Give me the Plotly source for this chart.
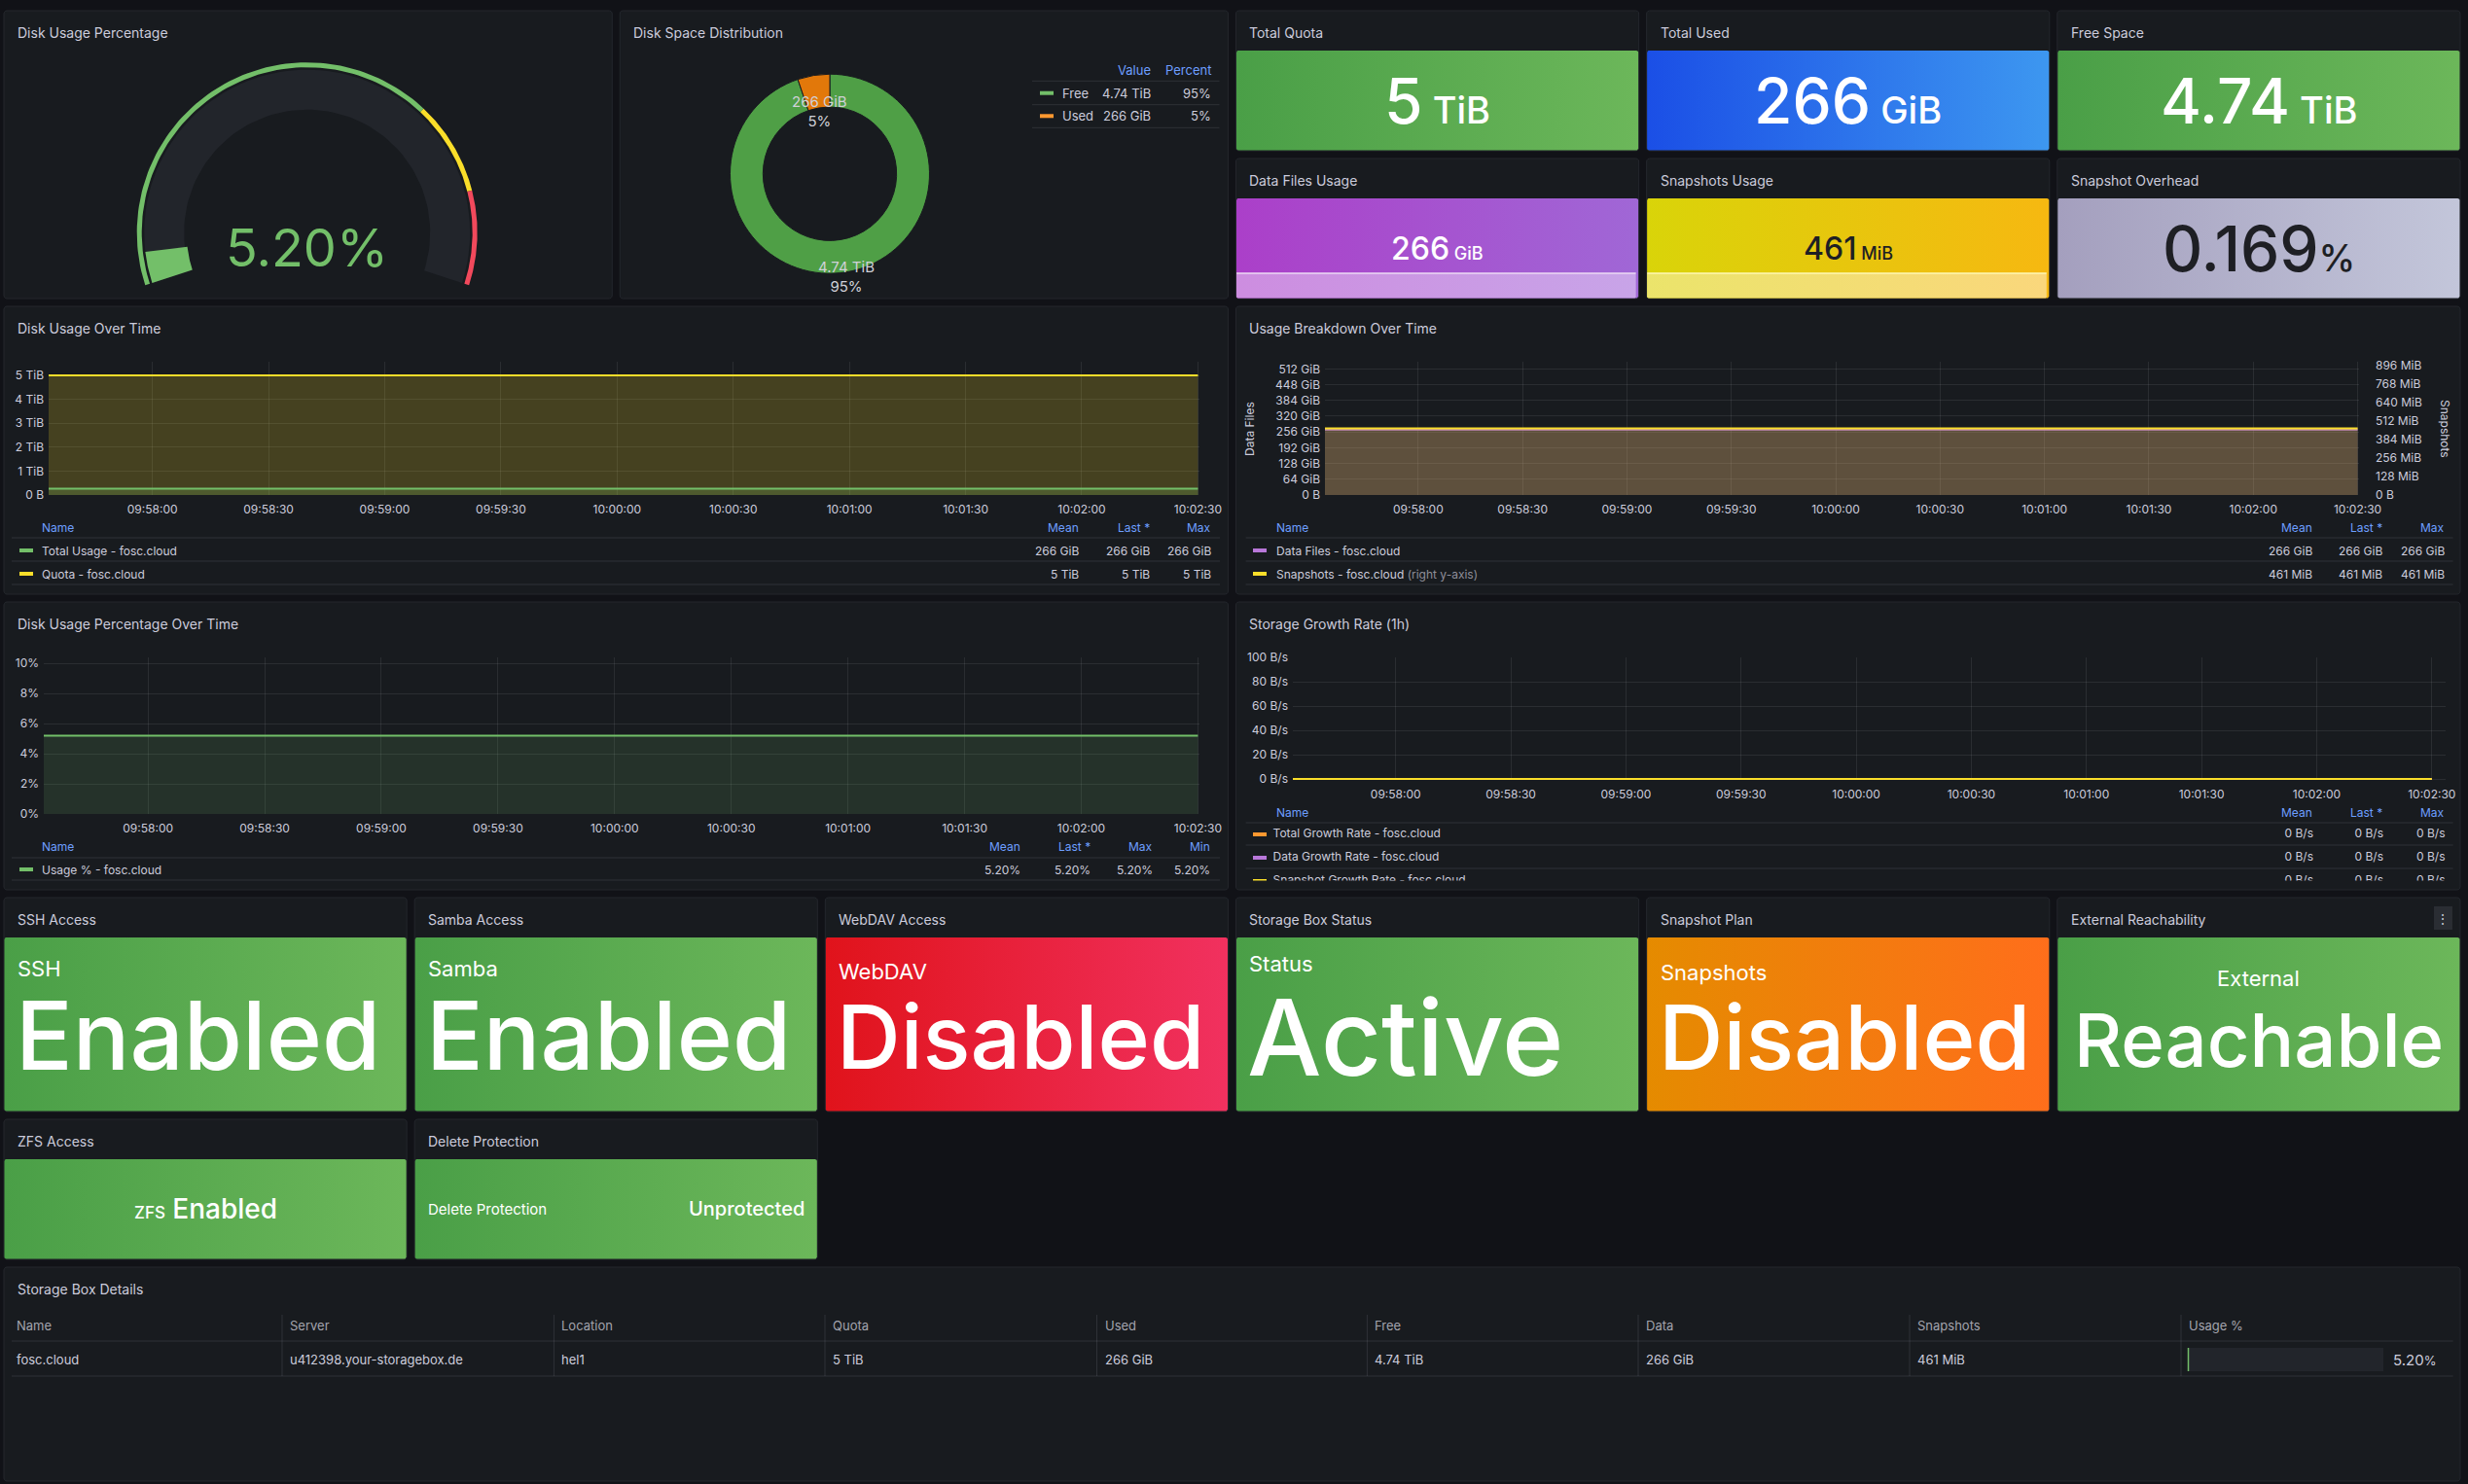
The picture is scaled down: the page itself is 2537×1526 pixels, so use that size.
import math
import plotly.graph_objects as go

W, H = 2537, 1526
BG = "#111217"
PANEL_BG = "#181b1f"
PANEL_BORDER = "#24272d"
TXT = "#ccccdc"
HDR_BLUE = "#6e9fff"
GRID = "rgba(204,204,220,0.10)"
SEP = "rgba(204,204,220,0.13)"
FONT = "Inter, Roboto, sans-serif"

# ---------------------------------------------------------------- data
gauge_value = 5.20
gauge_steps = [0, 70, 85, 100]
gauge_step_colors = ["#73BF69", "#FADE2A", "#F2495C"]

dist_labels = ["Free", "Used"]
dist_gib = [4854, 266]
dist_value_text = ["4.74 TiB", "266 GiB"]

stat_titles = ["Total Quota", "Total Used", "Free Space",
               "Data Files Usage", "Snapshots Usage", "Snapshot Overhead"]
stat_values = ["5", "266", "4.74", "266", "461", "0.169"]
stat_units = ["TiB", "GiB", "TiB", "GiB", "MiB", "%"]

times = ["2024-06-01 09:57:30", "2024-06-01 09:58:00", "2024-06-01 09:58:30",
         "2024-06-01 09:59:00", "2024-06-01 09:59:30", "2024-06-01 10:00:00",
         "2024-06-01 10:00:30", "2024-06-01 10:01:00", "2024-06-01 10:01:30",
         "2024-06-01 10:02:00", "2024-06-01 10:02:30"]
total_usage_gib = [266, 266, 266, 266, 266, 266, 266, 266, 266, 266, 266]
quota_tib = [5, 5, 5, 5, 5, 5, 5, 5, 5, 5, 5]
data_files_gib = [266, 266, 266, 266, 266, 266, 266, 266, 266, 266, 266]
snapshots_mib = [461, 461, 461, 461, 461, 461, 461, 461, 461, 461, 461]
usage_pct = [5.20, 5.20, 5.20, 5.20, 5.20, 5.20, 5.20, 5.20, 5.20, 5.20, 5.20]
growth_total_bps = [0, 0, 0, 0, 0, 0, 0, 0, 0, 0, 0]
growth_data_bps = [0, 0, 0, 0, 0, 0, 0, 0, 0, 0, 0]
growth_snap_bps = [0, 0, 0, 0, 0, 0, 0, 0, 0, 0, 0]

ts1_ticks = [0, 1, 2, 3, 4, 5]
ts1_ticktext = ["0 B", "1 TiB", "2 TiB", "3 TiB", "4 TiB", "5 TiB"]
ts2_left_ticks = [0, 64, 128, 192, 256, 320, 384, 448, 512]
ts2_left_text = ["0 B", "64 GiB", "128 GiB", "192 GiB", "256 GiB", "320 GiB", "384 GiB", "448 GiB", "512 GiB"]
ts2_right_ticks = [0, 128, 256, 384, 512, 640, 768, 896]
ts2_right_text = ["0 B", "128 MiB", "256 MiB", "384 MiB", "512 MiB", "640 MiB", "768 MiB", "896 MiB"]
ts3_ticks = [0, 2, 4, 6, 8, 10]
ts3_ticktext = ["0%", "2%", "4%", "6%", "8%", "10%"]
ts4_ticks = [0, 20, 40, 60, 80, 100]
ts4_ticktext = ["0 B/s", "20 B/s", "40 B/s", "60 B/s", "80 B/s", "100 B/s"]

status_titles = ["SSH Access", "Samba Access", "WebDAV Access",
                 "Storage Box Status", "Snapshot Plan", "External Reachability"]
status_labels = ["SSH", "Samba", "WebDAV", "Status", "Snapshots", "External"]
status_values = ["Enabled", "Enabled", "Disabled", "Active", "Disabled", "Reachable"]
status_kind = ["green", "green", "red", "green", "orange", "green"]

small_titles = ["ZFS Access", "Delete Protection"]

table_headers = ["Name", "Server", "Location", "Quota", "Used", "Free", "Data", "Snapshots", "Usage %"]
table_row = ["fosc.cloud", "u412398.your-storagebox.de", "hel1", "5 TiB", "266 GiB",
             "4.74 TiB", "266 GiB", "461 MiB", "5.20%"]

# ---------------------------------------------------------------- styles
GRAD = {
    "green": ("#4a9f47", "#6cb75a"),
    "blue": ("#1b4fe6", "#3d97f0"),
    "purple": ("#ab3fc9", "#a067d6"),
    "yellow": ("#d9d409", "#f6b811"),
    "gray": ("#a49fbe", "#c3c6da"),
    "red": ("#e0131b", "#f1315f"),
    "orange": ("#e58b00", "#ff6e1b"),
}
stat_kind = ["green", "blue", "green", "purple", "yellow", "gray"]
stat_txt_color = ["#ffffff", "#ffffff", "#ffffff", "#ffffff", "#1e1f24", "#1e1f24"]
stat_val_size = [64, 64, 64, 32, 32, 64]
stat_unit_size = [38, 38, 38, 18, 18, 38]
spark_band = {3: (("#cd8de0", "#c8a4e8"), "#ecdaf4"), 4: (("#ebe46b", "#fad77c"), "#fff8b5")}

status_label_y = [996, 996, 999, 991, 1000, 1006]
status_val_size = [97.5, 97.5, 91, 108, 92, 76]
status_val_y = [1065, 1065, 1066, 1066, 1066, 1069]

# ---------------------------------------------------------------- helpers
U = 105.54


def P(col, row, w, h):
    x0 = 4 + col * U
    y0 = 11 + row * 38
    return (x0, y0, x0 + w * U - 8, y0 + h * 38 - 8)


canvas = []
shapes = []
ann = []


def rrect(x0, y0, x1, y1, r=3, n=5):
    xs, ys = [], []
    for cx, cy, a0 in [(x1 - r, y0 + r, -90), (x1 - r, y1 - r, 0), (x0 + r, y1 - r, 90), (x0 + r, y0 + r, 180)]:
        for k in range(n + 1):
            a = math.radians(a0 + 90 * k / n)
            xs.append(cx + r * math.cos(a))
            ys.append(cy + r * math.sin(a))
    xs.append(xs[0])
    ys.append(ys[0])
    return xs, ys


def poly(xs, ys, fill=None, line_color=None, line_width=0, grad=None):
    kw = dict(x=xs, y=ys, mode="lines", fill="toself", hoverinfo="skip",
              showlegend=False, xaxis="x", yaxis="y",
              line=dict(color=line_color or "rgba(0,0,0,0)", width=line_width))
    if grad:
        kw["fillgradient"] = dict(type="horizontal", colorscale=[[0, grad[0]], [1, grad[1]]])
    else:
        kw["fillcolor"] = fill
    canvas.append(go.Scatter(**kw))


def sector(cx, cy, r0, r1, a0, a1, n=90):
    xs, ys = [], []
    for k in range(n + 1):
        t = math.radians(a0 + (a1 - a0) * k / n)
        xs.append(cx + r1 * math.cos(t))
        ys.append(cy - r1 * math.sin(t))
    for k in range(n, -1, -1):
        t = math.radians(a0 + (a1 - a0) * k / n)
        xs.append(cx + r0 * math.cos(t))
        ys.append(cy - r0 * math.sin(t))
    xs.append(xs[0])
    ys.append(ys[0])
    return xs, ys


def text(x, y, s, size=12, color=TXT, xa="left", ya="middle", weight=None, angle=None):
    f = dict(size=size, color=color, family=FONT)
    if weight:
        f["weight"] = weight
    d = dict(x=x, y=y, xref="x", yref="y", text=s, showarrow=False,
             xanchor=xa, yanchor=ya, font=f, borderpad=0)
    if angle is not None:
        d["textangle"] = angle
    ann.append(d)


def hline(x0, x1, y, color=SEP, w=1):
    shapes.append(dict(type="line", xref="x", yref="y", x0=x0, x1=x1, y0=y, y1=y,
                       line=dict(color=color, width=w), layer="above"))


def vline(x, y0, y1, color=SEP, w=1):
    shapes.append(dict(type="line", xref="x", yref="y", x0=x, x1=x, y0=y0, y1=y1,
                       line=dict(color=color, width=w), layer="above"))


def box(x0, y0, x1, y1, color):
    shapes.append(dict(type="rect", xref="x", yref="y", x0=x0, x1=x1, y0=y0, y1=y1,
                       fillcolor=color, line=dict(width=0), layer="above"))


def panel(rect, title):
    x0, y0, x1, y1 = rect
    xs, ys = rrect(x0, y0, x1, y1, r=3)
    poly(xs, ys, fill=PANEL_BG, line_color=PANEL_BORDER, line_width=1)
    text(x0 + 13, y0 + 22, title, 14, TXT)


def xdom(a, b):
    return [a / W, b / W]


def ydom(top, bottom):
    return [1 - bottom / H, 1 - top / H]


# ---------------------------------------------------------------- panels
g_rect = P(0, 0, 6, 8)
d_rect = P(6, 0, 6, 8)
ts_rects = [P(0, 8, 12, 8), P(12, 8, 12, 8), P(0, 16, 12, 8), P(12, 16, 12, 8)]
stat_rects = [P(12, 0, 4, 4), P(16, 0, 4, 4), P(20, 0, 4, 4), P(12, 4, 4, 4), P(16, 4, 4, 4), P(20, 4, 4, 4)]
status_rects = [P(0, 24, 4, 6), P(4, 24, 4, 6), P(8, 24, 4, 6), P(12, 24, 4, 6), P(16, 24, 4, 6), P(20, 24, 4, 6)]
small_rects = [P(0, 30, 4, 4), P(4, 30, 4, 4)]
t_rect = P(0, 34, 24, 6)

panel(g_rect, "Disk Usage Percentage")
panel(d_rect, "Disk Space Distribution")
for r, t in zip(ts_rects, ["Disk Usage Over Time", "Usage Breakdown Over Time",
                           "Disk Usage Percentage Over Time", "Storage Growth Rate (1h)"]):
    panel(r, t)
for r, t in zip(stat_rects, stat_titles):
    panel(r, t)
for r, t in zip(status_rects, status_titles):
    panel(r, t)
for r, t in zip(small_rects, small_titles):
    panel(r, t)
panel(t_rect, "Storage Box Details")

# ---------------------------------------------------------------- gauge
GCX, GCY = 315.7, 239.2
A_START, A_SPAN = 198.0, 216.0


def g_ang(v):
    return A_START - v / 100.0 * A_SPAN


xs, ys = sector(GCX, GCY, 126.5, 167.5, g_ang(0), g_ang(100))
poly(xs, ys, fill="#22252b")
for i, c in enumerate(gauge_step_colors):
    xs, ys = sector(GCX, GCY, 170, 175, g_ang(gauge_steps[i]), g_ang(gauge_steps[i + 1]))
    poly(xs, ys, fill=c)
xs, ys = sector(GCX, GCY, 124, 167.5, g_ang(0), g_ang(gauge_value), n=20)
poly(xs, ys, fill="#73BF69")
text(GCX, 254.5, f"{gauge_value:.2f}%", 54, "#73BF69", xa="center")

# ---------------------------------------------------------------- stats (top right)
for i, r in enumerate(stat_rects):
    x0, y0, x1, y1 = r
    xs, ys = rrect(x0 + 0.5, y0 + 41, x1 - 0.5, y1 - 0.5, r=2)
    poly(xs, ys, grad=GRAD[stat_kind[i]])
    if i in spark_band:
        (bc, lc) = spark_band[i]
        by = y0 + 118
        xs, ys = rrect(x0 + 0.5, by, x1 - 3, y1 - 0.5, r=1, n=1)
        poly(xs, ys, grad=bc)
        canvas.append(go.Scatter(x=[x0 + 0.5, x1 - 3], y=[by, by], mode="lines",
                                 line=dict(color=lc, width=1.5), hoverinfo="skip",
                                 showlegend=False, xaxis="x", yaxis="y"))
    cy = (y0 + 41 + y1) / 2
    s = f"{stat_values[i]}<span style='font-size:{stat_unit_size[i]}px'> {stat_units[i]}</span>"
    if stat_units[i] == "%":
        s = f"{stat_values[i]}<span style='font-size:{stat_unit_size[i]}px'>%</span>"
    text((x0 + x1) / 2, cy, s, stat_val_size[i], stat_txt_color[i], xa="center", weight=500)

# ---------------------------------------------------------------- status panels
for i, r in enumerate(status_rects):
    x0, y0, x1, y1 = r
    xs, ys = rrect(x0 + 0.5, y0 + 41, x1 - 0.5, y1 - 0.5, r=2)
    poly(xs, ys, grad=GRAD[status_kind[i]])
    if status_labels[i] == "External":
        text((x0 + x1) / 2, status_label_y[i], status_labels[i], 22, "#ffffff", xa="center")
        text((x0 + x1) / 2, status_val_y[i], status_values[i], status_val_size[i], "#ffffff",
             xa="center", weight=500)
    else:
        text(x0 + 13, status_label_y[i], status_labels[i], 22, "#ffffff")
        text(x0 + 11, status_val_y[i], status_values[i], status_val_size[i], "#ffffff", weight=500)
mx0, my0, mx1, my1 = status_rects[5]
shapes.append(dict(type="rect", xref="x", yref="y", x0=mx1 - 27, x1=mx1 - 8, y0=my0 + 9, y1=my0 + 33,
                   fillcolor="#2a2d33", line=dict(width=0), layer="above"))
text(mx1 - 17.5, my0 + 21, "⋮", 14, TXT, xa="center")

for i, r in enumerate(small_rects):
    x0, y0, x1, y1 = r
    xs, ys = rrect(x0 + 0.5, y0 + 41, x1 - 0.5, y1 - 0.5, r=2)
    poly(xs, ys, grad=GRAD["green"])
zx0, zy0, zx1, zy1 = small_rects[0]
text((zx0 + zx1) / 2, 1243, "<span style='font-size:17px'>ZFS</span> Enabled", 28, "#ffffff",
     xa="center", weight=500)
dx0, dy0, dx1, dy1 = small_rects[1]
text(dx0 + 13, 1243, "Delete Protection", 15, "#ffffff")
text(dx1 - 12, 1243, "Unprotected", 20, "#ffffff", xa="right", weight=500)

# ---------------------------------------------------------------- donut
PCX, PCY, PR = 853.0, 178.7, 102.5
pie = go.Pie(labels=dist_labels, values=dist_gib, hole=0.67, sort=False, direction="clockwise",
             rotation=0, marker=dict(colors=["#4f9f46", "#e2780a"], line=dict(color=PANEL_BG, width=1)),
             textinfo="none", hoverinfo="skip", showlegend=False,
             domain=dict(x=xdom(PCX - PR, PCX + PR), y=ydom(PCY - PR, PCY + PR)))
total = sum(dist_gib)
pie_label_r = [107, 65]
cum = 0
pcts = []
for i, v in enumerate(dist_gib):
    mid = math.radians((cum + v / 2) / total * 360)
    cum += v
    pct = round(v / total * 100)
    pcts.append(pct)
    lx = PCX + pie_label_r[i] * math.sin(mid)
    ly = PCY - pie_label_r[i] * math.cos(mid)
    text(lx, ly, f"{dist_value_text[i]}<br>{pct}%", 15, "#d0d1d8", xa="center")
text(1184, 71.7, "Value", 13, HDR_BLUE, xa="right")
text(1245.5, 71.7, "Percent", 13, HDR_BLUE, xa="right")
hline(1061, 1253.5, 83.3)
sw_cols = ["#73BF69", "#FF9830"]
for i, (lab, ry) in enumerate(zip(dist_labels, [95.7, 119.3])):
    box(1069, ry - 2, 1083, ry + 2, sw_cols[i])
    text(1091, ry, lab, 13, TXT)
    text(1184, ry, dist_value_text[i], 13, TXT, xa="right")
    text(1245.5, ry, f"{pcts[i]}%", 13, TXT, xa="right")
    hline(1061, 1253.5, ry + 12)

# ---------------------------------------------------------------- time series
traces = []
XR = ["2024-06-01 09:57:33.2", "2024-06-01 10:02:30.4"]
XR4 = ["2024-06-01 09:57:33.2", "2024-06-01 10:02:33.6"]


def time_axis(anchor, a, b, rng):
    return dict(domain=xdom(a, b), anchor=anchor, type="date", range=rng, tickformat="%H:%M:%S",
                tick0="2024-06-01 09:58:00", dtick=30000, showgrid=True, gridcolor=GRID,
                zeroline=False, showline=False, ticks="", fixedrange=True, automargin=False,
                tickfont=dict(size=12, color=TXT, family=FONT), ticklabelstandoff=6)


def val_axis(anchor, top, bottom, rng, tv, tt, side="left", overlaying=None, standoff=4):
    d = dict(anchor=anchor, range=rng, tickmode="array", tickvals=tv, ticktext=tt,
             showgrid=overlaying is None, gridcolor=GRID, zeroline=False, showline=False,
             ticks="", fixedrange=True, side=side, ticklabelstandoff=standoff, automargin=False,
             tickfont=dict(size=12, color=TXT, family=FONT))
    if overlaying:
        d["overlaying"] = overlaying
    else:
        d["domain"] = ydom(top, bottom)
    return d


def line_tr(x, y, color, xa, ya, fillc=None):
    kw = dict(x=x, y=y, mode="lines", line=dict(color=color, width=2), hoverinfo="skip",
              showlegend=False, xaxis=xa, yaxis=ya)
    if fillc:
        kw["fill"] = "tozeroy"
        kw["fillcolor"] = fillc
    return go.Scatter(**kw)


traces.append(line_tr(times, quota_tib, "#FADE2A", "x2", "y2", "rgba(250,222,42,0.2)"))
traces.append(line_tr(times, [g / 1024 for g in total_usage_gib], "#73BF69", "x2", "y2",
                      "rgba(115,191,105,0.2)"))
traces.append(line_tr(times, data_files_gib, "#B877D9", "x3", "y3", "rgba(184,119,217,0.2)"))
traces.append(line_tr(times, snapshots_mib, "#FADE2A", "x3", "y4", "rgba(250,222,42,0.2)"))
traces.append(line_tr(times, usage_pct, "#73BF69", "x4", "y5", "rgba(115,191,105,0.15)"))
traces.append(line_tr(times, growth_total_bps, "#FF9830", "x5", "y6"))
traces.append(line_tr(times, growth_data_bps, "#B877D9", "x5", "y6"))
traces.append(line_tr(times, growth_snap_bps, "#FADE2A", "x5", "y6"))

hidden = dict(visible=False, fixedrange=True, automargin=False, showgrid=False, zeroline=False)
layout_axes = dict(
    xaxis=dict(domain=[0, 1], range=[0, W], **hidden),
    yaxis=dict(domain=[0, 1], range=[H, 0], **hidden),
    xaxis2=time_axis("y2", 50, 1233, XR),
    yaxis2=val_axis("x2", 372, 509, [0, 5.57], ts1_ticks, ts1_ticktext),
    xaxis3=time_axis("y3", 1362, 2425, XR),
    yaxis3=val_axis("x3", 372, 509, [0, 541], ts2_left_ticks, ts2_left_text),
    yaxis4=val_axis("x3", 372, 509, [0, 921], ts2_right_ticks, ts2_right_text, side="right",
                    overlaying="y3", standoff=16),
    xaxis4=time_axis("y5", 45, 1233, XR),
    yaxis5=val_axis("x4", 676, 837, [0, 10.39], ts3_ticks, ts3_ticktext),
    xaxis5=time_axis("y6", 1329, 2514, XR4),
    yaxis6=val_axis("x5", 676, 802.3, [-1, 100], ts4_ticks, ts4_ticktext),
    xaxis6=dict(domain=xdom(1272, 2529), range=[1272, 2529], anchor="y7", **hidden),
    yaxis7=dict(domain=ydom(846, 905.5), range=[905.5, 846], anchor="x6", **hidden),
)
text(1284, 441, "Data Files", 12, TXT, xa="center", angle=-90)
text(2514, 441, "Snapshots", 12, TXT, xa="center", angle=90)


def fmt_gib(v):
    return f"{v:.0f} GiB"


def fmt_tib(v):
    return f"{v:g} TiB"


def fmt_mib(v):
    return f"{v:.0f} MiB"


def fmt_pct(v):
    return f"{v:.2f}%"


def fmt_bps(v):
    return f"{v:g} B/s"


def stats(vals, which):
    out = []
    for w in which:
        if w == "Mean":
            out.append(sum(vals) / len(vals))
        elif w == "Last *":
            out.append(vals[-1])
        elif w == "Max":
            out.append(max(vals))
        else:
            out.append(min(vals))
    return out


def legend(name_x, sw_x, cols, col_x, hdr_y, rows, row_ys, sep_ys, sep_x0, sep_x1):
    text(name_x, hdr_y, "Name", 12, HDR_BLUE)
    for c, xr in zip(cols, col_x):
        text(xr, hdr_y, c, 12, HDR_BLUE, xa="right")
    for y in sep_ys:
        hline(sep_x0, sep_x1, y)
    for (label, color, vals, fmt), ry in zip(rows, row_ys):
        box(sw_x, ry - 2, sw_x + 14, ry + 2, color)
        text(name_x, ry, label, 12, TXT)
        for v, xr in zip(stats(vals, cols), col_x):
            text(xr, ry, fmt(v), 12, TXT, xa="right")


C3 = ["Mean", "Last *", "Max"]
legend(42, 20, C3, [1110, 1183, 1246], 542,
       [("Total Usage - fosc.cloud", "#73BF69", total_usage_gib, fmt_gib),
        ("Quota - fosc.cloud", "#FADE2A", quota_tib, fmt_tib)],
       [566, 590], [553, 577, 601], 12, 1254)
legend(1310.6, 1288, C3, [2378, 2450, 2513.5], 542,
       [("Data Files - fosc.cloud", "#B877D9", data_files_gib, fmt_gib),
        ("Snapshots - fosc.cloud <span style='color:#8e8e99'>(right y-axis)</span>", "#FADE2A",
         snapshots_mib, fmt_mib)],
       [566, 590], [553, 577, 601], 1280.6, 2521.6)
legend(42, 20, ["Mean", "Last *", "Max", "Min"], [1050, 1122, 1186, 1245], 870,
       [("Usage % - fosc.cloud", "#73BF69", usage_pct, fmt_pct)],
       [894], [882, 905], 12, 1254)

text(1310.6, 835, "Name", 12, HDR_BLUE)
for c, xr in zip(C3, [2378, 2450, 2513.5]):
    text(xr, 835, c, 12, HDR_BLUE, xa="right")
for y in [846, 869, 893]:
    hline(1280.6, 2521.6, y)
g_rows = [("Total Growth Rate - fosc.cloud", "#FF9830", growth_total_bps),
          ("Data Growth Rate - fosc.cloud", "#B877D9", growth_data_bps),
          ("Snapshot Growth Rate - fosc.cloud", "#FADE2A", growth_snap_bps)]
for (label, color, vals), ry in zip(g_rows, [858, 882, 906]):
    traces.append(go.Scatter(x=[1288, 1302], y=[ry, ry], mode="lines", line=dict(color=color, width=4),
                             hoverinfo="skip", showlegend=False, xaxis="x6", yaxis="y7"))
    traces.append(go.Scatter(x=[1308.6], y=[ry], mode="text", text=[label], textposition="middle right",
                             textfont=dict(size=12, color=TXT, family=FONT), hoverinfo="skip",
                             showlegend=False, xaxis="x6", yaxis="y7", cliponaxis=True))
    vs = stats(vals, C3)
    traces.append(go.Scatter(x=[2378, 2450, 2513.5], y=[ry] * 3, mode="text",
                             text=[fmt_bps(v) for v in vs], textposition="middle left",
                             textfont=dict(size=12, color=TXT, family=FONT), hoverinfo="skip",
                             showlegend=False, xaxis="x6", yaxis="y7", cliponaxis=True))

# ---------------------------------------------------------------- table
col_sep = [290, 569.4, 848, 1127.5, 1405.4, 1684, 1963, 2242]
col_txt = [16] + [c + 7 for c in col_sep]
for h_, x in zip(table_headers, col_txt):
    text(x, 1363, h_, 13, "#a3a4ad")
for i, (v, x) in enumerate(zip(table_row, col_txt)):
    if table_headers[i] == "Usage %":
        continue
    text(x, 1398, v, 13, TXT)
for c in col_sep:
    vline(c, 1352, 1415)
hline(12, 2521.6, 1379)
hline(12, 2521.6, 1415)
shapes.append(dict(type="rect", xref="x", yref="y", x0=2249, x1=2450, y0=1386, y1=1410,
                   fillcolor="#22252b", line=dict(width=0), layer="above"))
vline(2249.5, 1386, 1410, color="#73BF69", w=1.5)
text(2505, 1398, "5.20<span style='font-size:13px'>%</span>", 15, TXT, xa="right")

# ---------------------------------------------------------------- figure
fig = go.Figure(data=canvas + traces + [pie])
fig.update_layout(
    template="none",
    width=W, height=H, autosize=False,
    margin=dict(l=0, r=0, t=0, b=0, pad=0, autoexpand=False),
    paper_bgcolor=BG, plot_bgcolor="rgba(0,0,0,0)",
    showlegend=False, font=dict(family=FONT, color=TXT),
    shapes=shapes, annotations=ann, **layout_axes,
)
fig.write_html(
    "out.html", include_plotlyjs=True,
    config={"displayModeBar": False, "staticPlot": True},
    post_script=("document.documentElement.style.margin='0';"
                 "document.documentElement.style.padding='0';"
                 "document.documentElement.style.background='#111217';"
                 "document.body.style.margin='0';document.body.style.padding='0';"
                 "document.body.style.background='#111217';"
                 "document.body.style.overflow='hidden';"),
)
